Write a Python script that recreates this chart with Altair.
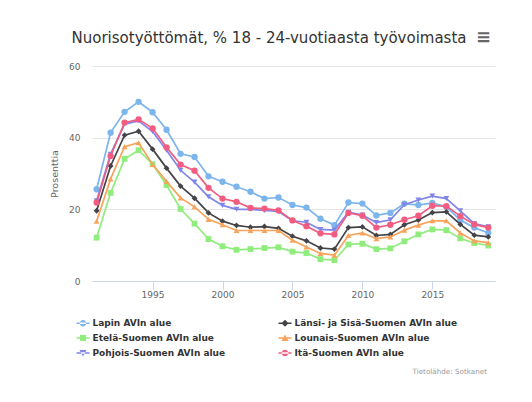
import altair as alt
import pandas as pd

years = list(range(1991, 2020))
series_names = [
    "Lapin AVIn alue",
    "Länsi- ja Sisä-Suomen AVIn alue",
    "Etelä-Suomen AVIn alue",
    "Lounais-Suomen AVIn alue",
    "Pohjois-Suomen AVIn alue",
    "Itä-Suomen AVIn alue",
]
colors = ["#7cb5ec", "#434348", "#90ed7d", "#f7a35c", "#8085e9", "#f15c80"]

lapin = [25.6, 41.4, 47.2, 50.0, 47.1, 42.2, 35.5, 34.6, 29.2, 27.7, 26.3, 24.9, 23.0, 23.3,
         21.2, 20.5, 17.4, 15.6, 21.9, 21.6, 18.3, 19.0, 21.6, 21.2, 21.8, 20.7, 17.0, 14.9, 13.4]
lansi = [19.6, 32.1, 40.7, 41.8, 36.8, 31.5, 26.5, 23.1, 19.0, 16.7, 15.5, 15.0, 15.2, 14.7,
         12.5, 11.2, 9.2, 8.9, 14.9, 15.1, 12.7, 13.0, 15.7, 17.0, 19.1, 19.3, 15.8, 12.8, 12.3]
etela = [12.1, 24.6, 34.1, 36.5, 32.6, 26.8, 20.1, 16.0, 11.7, 9.7, 8.7, 8.9, 9.2, 9.4,
         8.2, 7.8, 6.1, 5.8, 10.2, 10.4, 8.9, 9.1, 11.1, 13.0, 14.4, 14.2, 11.9, 10.6, 9.9]
lounais = [16.7, 28.5, 37.5, 38.6, 32.5, 27.8, 23.2, 20.7, 17.2, 15.7, 14.1, 14.1, 14.1, 14.1,
           11.4, 9.5, 7.7, 7.2, 12.7, 13.4, 11.8, 12.3, 14.2, 15.6, 16.8, 16.8, 13.4, 11.2, 10.7]
pohjois = [22.4, 35.4, 43.8, 44.7, 41.7, 36.5, 30.9, 27.6, 23.5, 21.1, 20.0, 20.0, 19.7, 19.4,
           16.8, 16.4, 14.4, 14.2, 19.2, 18.4, 16.3, 17.1, 21.3, 22.6, 23.7, 23.0, 19.6, 16.0, 15.1]
ita = [21.9, 34.9, 44.2, 45.1, 42.6, 37.3, 32.5, 30.8, 26.0, 23.0, 22.1, 20.4, 20.2, 19.7,
       16.9, 15.3, 13.3, 13.0, 19.0, 18.2, 14.9, 15.7, 17.1, 18.2, 21.0, 20.9, 18.1, 15.8, 14.9]

all_values = [lapin, lansi, etela, lounais, pohjois, ita]
plot_shapes = ["circle", "diamond", "square", "triangle-up", "triangle-down", "circle"]
plot_sizes = [40, 34, 34, 34, 34, 40]
_line = "M-1,-0.12H1V0.12H-1Z"
legend_shapes = [
    _line + "M-0.5,0A0.5,0.5,0,1,0,0.5,0A0.5,0.5,0,1,0,-0.5,0Z",
    _line + "M0,-0.55L0.55,0L0,0.55L-0.55,0Z",
    _line + "M-0.46,-0.46H0.46V0.46H-0.46Z",
    _line + "M0,-0.55L0.55,0.48H-0.55Z",
    _line + "M0,0.55L0.55,-0.48H-0.55Z",
    _line + "M-0.5,0A0.5,0.5,0,1,0,0.5,0A0.5,0.5,0,1,0,-0.5,0Z",
]

title_text = "Nuorisotyöttömät, % 18 - 24-vuotiaasta työvoimasta"
y_title = "Prosenttia"
credits_text = "Tietolähde: Sotkanet"
menu_icon = "≡"
x_ticks = [1995, 2000, 2005, 2010, 2015]
y_ticks = [0, 20, 40, 60]

rows = []
for name, vals in zip(series_names, all_values):
    for yr, v in zip(years, vals):
        rows.append({"year": yr, "value": v, "series": name})
df = pd.DataFrame(rows)

FONT = "DejaVu Sans"

x_enc = alt.X("year:Q",
              scale=alt.Scale(domain=[1990.67, 2019.48], nice=False, zero=False),
              axis=alt.Axis(values=x_ticks, format="d", title=None, grid=False,
                            domainColor="#ccd6eb", tickColor="#ccd6eb", tickSize=8,
                            labelColor="#666666", labelFont=FONT, labelFontSize=9,
                            labelPadding=1))
y_enc = alt.Y("value:Q",
              scale=alt.Scale(domain=[0, 60], nice=False),
              axis=alt.Axis(values=y_ticks, title=y_title, domain=False, ticks=False,
                            gridColor="#e6e6e6", labelColor="#666666", labelFont=FONT,
                            labelFontSize=9, labelPadding=12, titleColor="#666666",
                            titleFont=FONT, titleFontSize=9.5, titleFontWeight="normal",
                            titlePadding=9))

base = alt.Chart(df)
layers = []
for i, name in enumerate(series_names):
    layer = base.transform_filter(alt.datum.series == name).mark_line(
        strokeWidth=1.7,
        color=colors[i],
        point=alt.OverlayMarkDef(shape=plot_shapes[i], size=plot_sizes[i], filled=True,
                                 opacity=1, color=colors[i]),
    ).encode(
        x=x_enc,
        y=y_enc,
    )
    layers.append(layer)

leg = alt.Legend(title=None, orient="none", legendX=-15.5, legendY=250.5, columns=2,
                 direction="horizontal", columnPadding=53, rowPadding=3, labelFont=FONT,
                 labelFontSize=9, labelFontWeight="bold", labelColor="#333333",
                 labelLimit=400, symbolSize=169, symbolStrokeWidth=0, symbolOpacity=1,
                 labelOffset=3, padding=0)
legend_layer = base.mark_point(size=0, filled=True, opacity=1).encode(
    x=x_enc,
    y=y_enc,
    fill=alt.Fill("series:N", scale=alt.Scale(domain=series_names, range=colors), legend=leg),
    shape=alt.Shape("series:N", scale=alt.Scale(domain=series_names, range=legend_shapes), legend=leg),
)

credits = alt.Chart(pd.DataFrame({"t": [credits_text]})).mark_text(
    align="right", baseline="middle", font=FONT, fontSize=7.2, color="#999999"
).encode(x=alt.value(395), y=alt.value(305.7), text="t:N")

menu = alt.Chart(pd.DataFrame({"t": [menu_icon]})).mark_text(
    align="center", baseline="middle", font=FONT, fontSize=18, fontWeight="bold", color="#666666"
).encode(x=alt.value(391.5), y=alt.value(-28), text="t:N")

chart = alt.layer(*layers, legend_layer, credits, menu).properties(
    width=403,
    height=215,
    autosize=alt.AutoSizeParams(type="none"),
    padding={"left": 84, "top": 58, "right": 25, "bottom": 105},
    title=alt.Title(title_text, font=FONT, fontSize=15, fontWeight="normal", color="#333333",
                    anchor="middle", frame="group", dx=-24.5, offset=-29.3,
                    baseline="alphabetic"),
    background="white",
).configure_view(stroke=None)

chart.save("out.html", embed_options={"renderer": "svg", "actions": False})
